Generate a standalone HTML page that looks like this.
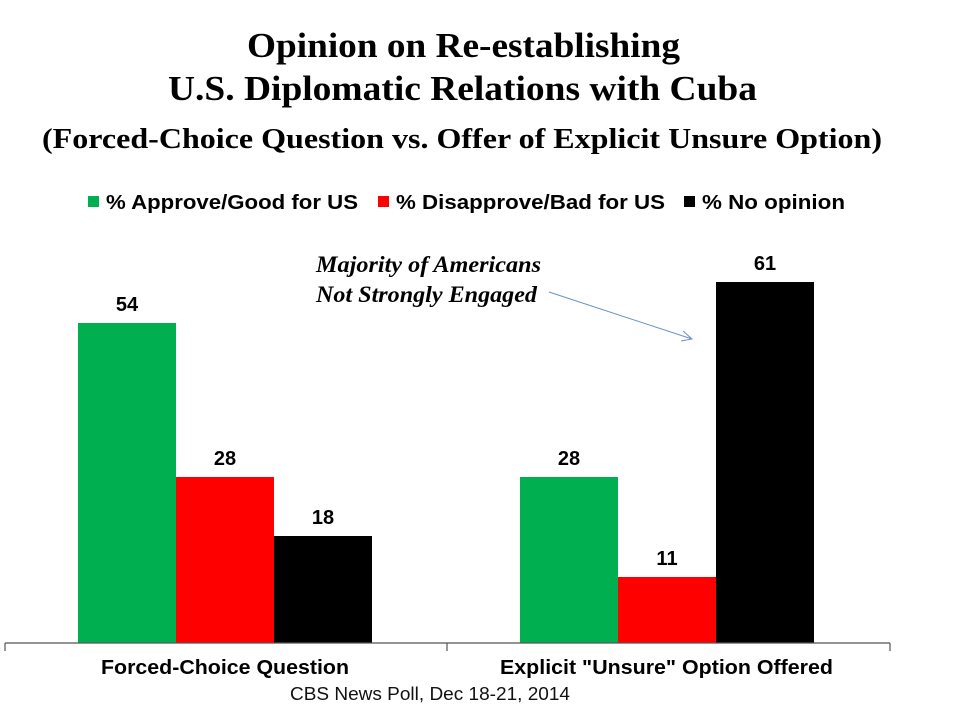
<!DOCTYPE html>
<html><head><meta charset="utf-8"><style>body{margin:0;background:#fff}svg{display:block}</style></head><body>
<svg width="954" height="712" xmlns="http://www.w3.org/2000/svg">
<rect width="954" height="712" fill="#fff"/>
<g font-family="Liberation Serif, serif" font-weight="bold" fill="#000">
<text x="247" y="57" font-size="35" textLength="433" lengthAdjust="spacingAndGlyphs">Opinion on Re-establishing</text>
<text x="168" y="100" font-size="35" textLength="589" lengthAdjust="spacingAndGlyphs">U.S. Diplomatic Relations with Cuba</text>
<text x="42" y="148" font-size="29" textLength="840" lengthAdjust="spacingAndGlyphs">(Forced-Choice Question vs. Offer of Explicit Unsure Option)</text>
</g>
<g font-family="Liberation Sans, sans-serif" font-weight="bold" font-size="20">
<rect x="88" y="196" width="11" height="11" fill="#00b050"/><text x="106" y="209" textLength="252" lengthAdjust="spacingAndGlyphs">% Approve/Good for US</text>
<rect x="378" y="196" width="11" height="11" fill="#ff0000"/><text x="396" y="209" textLength="269" lengthAdjust="spacingAndGlyphs">% Disapprove/Bad for US</text>
<rect x="684" y="196" width="11" height="11" fill="#000"/><text x="702" y="209" textLength="143" lengthAdjust="spacingAndGlyphs">% No opinion</text>
</g>
<rect x="78" y="323" width="98" height="320" fill="#00b050"/>
<rect x="176" y="477" width="98" height="166" fill="#ff0000"/>
<rect x="274" y="536" width="98" height="107" fill="#000"/>
<rect x="520" y="477" width="98" height="166" fill="#00b050"/>
<rect x="618" y="577" width="98" height="66" fill="#ff0000"/>
<rect x="716" y="282" width="98" height="361" fill="#000"/>
<path d="M5 643H890M5 643V651M447 643V651M890 643V651" stroke="#555" stroke-width="1.2" fill="none"/>
<g font-family="Liberation Sans, sans-serif" font-weight="bold" font-size="20" text-anchor="middle">
<text x="127" y="311">54</text><text x="225" y="465">28</text><text x="323" y="524">18</text>
<text x="569" y="465">28</text><text x="667" y="565">11</text><text x="765" y="270">61</text>
</g>
<g font-family="Liberation Sans, sans-serif" font-weight="bold" font-size="20">
<text x="101" y="674" textLength="248" lengthAdjust="spacingAndGlyphs">Forced-Choice Question</text>
<text x="500" y="674" textLength="333" lengthAdjust="spacingAndGlyphs">Explicit "Unsure" Option Offered</text>
</g>
<text x="290" y="700" font-family="Liberation Sans, sans-serif" font-weight="normal" font-size="18" fill="#111" textLength="280" lengthAdjust="spacingAndGlyphs">CBS News Poll, Dec 18-21, 2014</text>
<g font-family="Liberation Serif, serif" font-weight="bold" font-style="italic" font-size="23">
<text x="316" y="272" textLength="225" lengthAdjust="spacingAndGlyphs">Majority of Americans</text>
<text x="316" y="302" textLength="221" lengthAdjust="spacingAndGlyphs">Not Strongly Engaged</text>
</g>
<path d="M549 292L692 339M683 331L692 339L681 341" stroke="#6f8fc0" stroke-width="1" fill="none"/>
</svg>
</body></html>
